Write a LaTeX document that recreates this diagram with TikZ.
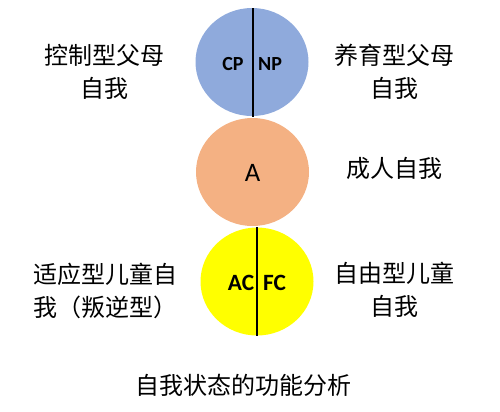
\documentclass[tikz,border=0pt]{standalone}
\usepackage{fontspec}
\setmainfont{Carlito}
\newfontfamily\cjk{Noto Sans CJK SC}
\usetikzlibrary{shapes.geometric}
\definecolor{cpblue}{HTML}{8FAADC}
\definecolor{aorange}{HTML}{F4B183}
\definecolor{cyellow}{HTML}{FFFF00}
\tikzset{
  egostate/.style={ellipse, draw=none, inner sep=0pt, minimum width=84.75pt, minimum height=81pt},
  divider/.style={draw=black, line width=1.3pt},
  letters/.style={font=\fontsize{15}{18}\selectfont\bfseries, inner sep=0pt, anchor=base},
  cjklabel/.style={font=\cjk\fontsize{18}{24.75}\selectfont, inner sep=0pt, align=center}
}
\begin{document}
\begin{tikzpicture}[x=0.75pt, y=-0.75pt]
\useasboundingbox (0,0) rectangle (500,411);
% circles
\node[egostate, fill=cpblue] (P) at (252,62) {};
\node[egostate, fill=aorange] (A) at (252.5,172) {};
\node[egostate, fill=cyellow] (C) at (257,281.5) {};
% dividers
\coordinate (Ptop) at (253,8);
\coordinate (Pbot) at (253,117);
\coordinate (Ctop) at (257,227);
\coordinate (Cbot) at (257,336);
\draw[divider] (Ptop) -- (Pbot);
\draw[divider] (Ctop) -- (Cbot);
% letters
\node[letters] (cp) at (233,70) {CP};
\node[letters] (np) at (270,70) {NP};
\node[font=\fontsize{20}{24}\selectfont, inner sep=0pt, anchor=base] (al) at (252.5,181.5) {A};
\node[letters, font=\fontsize{17.5}{20}\selectfont\bfseries] (ac) at (241,290) {AC};
\node[letters, font=\fontsize{17.5}{20}\selectfont\bfseries] (fc) at (274.5,290) {FC};
% labels
\node[cjklabel] (cpl) at (105,71.5) {控制型父母\\自我};
\node[cjklabel] (npl) at (394,71.5) {养育型父母\\自我};
\node[cjklabel] (al2) at (394,168) {成人自我};
\node[cjklabel, align=left, anchor=west] (acl) at (33,291) {适应型儿童自\\我（叛逆型）};
\node[cjklabel] (fcl) at (394,290) {自由型儿童\\自我};
\node[cjklabel] (title) at (243,385) {自我状态的功能分析};
\end{tikzpicture}
\end{document}
